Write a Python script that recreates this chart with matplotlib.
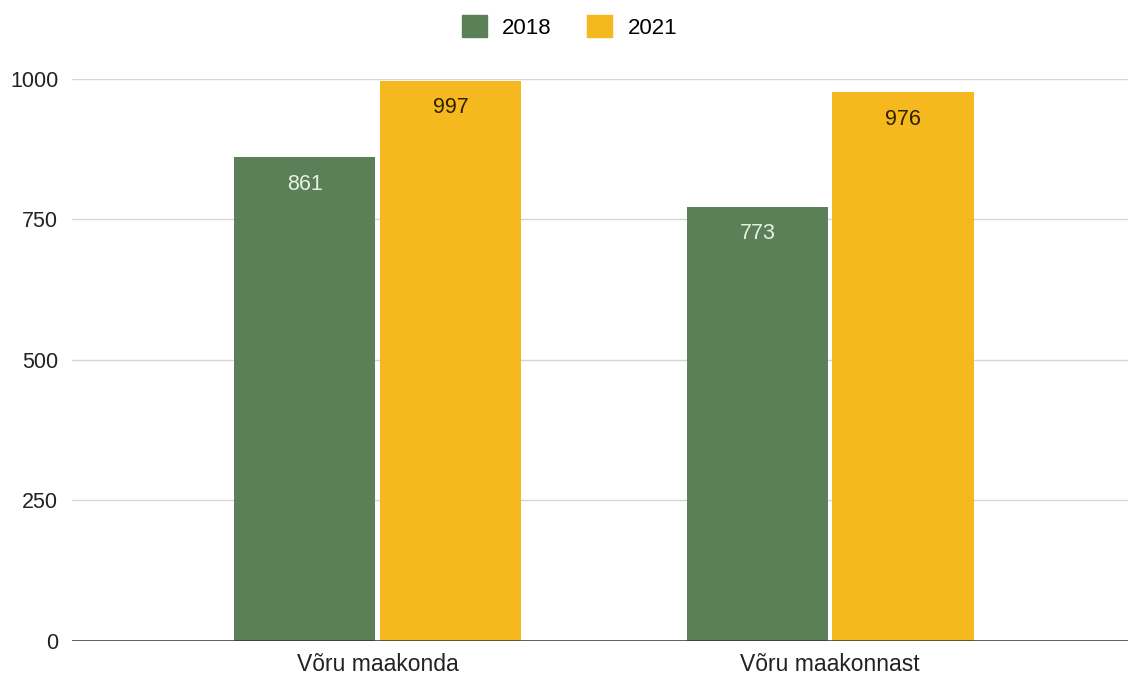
import matplotlib.pyplot as plt
import numpy as np
from matplotlib.patches import Patch

categories = ["Võru maakonda", "Võru maakonnast"]
years = ["2018", "2021"]
values_2018 = [861, 773]
values_2021 = [997, 976]

green = "#5b8058"
yellow = "#f5b81f"

plt.rcParams['font.family'] = ['Liberation Sans', 'DejaVu Sans']

fig = plt.figure(figsize=(11.28, 6.77), dpi=100)
ax = fig.add_axes([0.064, 0.0532, 0.936, 0.8302])

x = np.arange(len(categories))
width = 0.312
b1 = ax.bar(x - 0.161, values_2018, width, color=green, zorder=3)
b2 = ax.bar(x + 0.161, values_2021, width, color=yellow, zorder=3)

# value labels inside the bars, near the top
for rect, v in zip(b1, values_2018):
    ax.annotate(str(v), (rect.get_x() + rect.get_width() / 2, v),
                xytext=(0, -19.5), textcoords="offset points",
                ha="center", va="center", fontsize=15.5, color="#e6efe2", zorder=4)
for rect, v in zip(b2, values_2021):
    ax.annotate(str(v), (rect.get_x() + rect.get_width() / 2, v),
                xytext=(0, -19.5), textcoords="offset points",
                ha="center", va="center", fontsize=15.5, color="#2e2200", zorder=4)

ax.set_ylim(0, 1000)
ax.set_xlim(-0.675, 1.658)
ax.set_yticks([0, 250, 500, 750, 1000])
ax.set_xticks(x)
ax.set_xticklabels(categories)
ax.tick_params(axis="both", length=0, labelcolor="#222222")
ax.tick_params(axis="y", pad=10, labelsize=15.5)
ax.tick_params(axis="x", pad=9, labelsize=16.5)

ax.grid(axis="y", color="#d6d6d6", linewidth=1, zorder=0)
ax.axhline(0, color="#333333", linewidth=1.8, zorder=5)
for s in ax.spines.values():
    s.set_visible(False)

handles = [Patch(color=green), Patch(color=yellow)]
fig.legend(handles, years, loc="center", bbox_to_anchor=(0.505, 0.96), ncol=2,
           frameon=False, fontsize=16, handlelength=1.1, handleheight=1.1,
           columnspacing=1.6, handletextpad=0.7)

fig.savefig("out.png", dpi=100)
